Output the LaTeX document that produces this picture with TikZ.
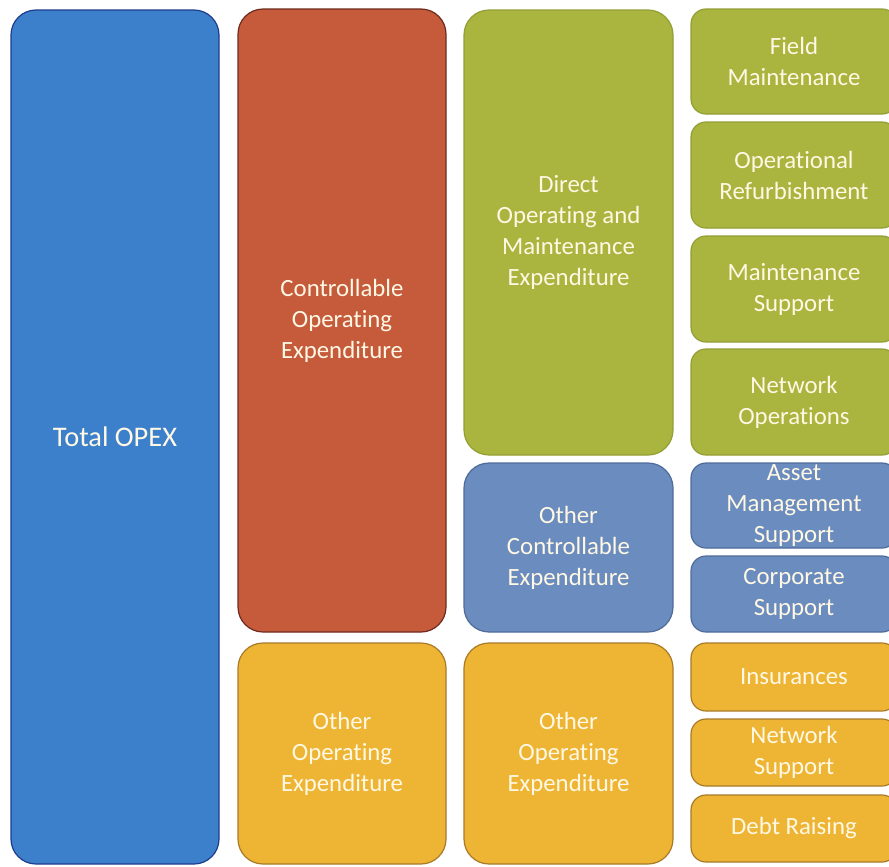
\documentclass[tikz,border=0pt]{standalone}
\usepackage{fontspec}
\setmainfont[Ligatures=NoCommon]{Carlito}
\usepackage{tikz}

\definecolor{opexblue}{HTML}{3C80CC}
\definecolor{opexblueline}{HTML}{1E3C8C}
\definecolor{ctrlred}{HTML}{C65B3C}
\definecolor{ctrlredline}{HTML}{6E2A1E}
\definecolor{omgreen}{HTML}{A9B53E}
\definecolor{omgreenline}{HTML}{939E34}
\definecolor{otherslate}{HTML}{6B8CBE}
\definecolor{otherslateline}{HTML}{4E6B9A}
\definecolor{otheramber}{HTML}{EEB534}
\definecolor{otheramberline}{HTML}{A87A28}
\definecolor{labelcream}{HTML}{FFF8E4}

\tikzset{
    cell/.style={draw, line width=0.6pt, rounded corners=12.5pt, inner sep=0pt,
        align=center, text=labelcream, font=\fontsize{12.4}{15.5}\selectfont},
    small/.style={rounded corners=7.5pt},
    wh/.style 2 args={minimum width=#1*0.5pt, minimum height=#2*0.5pt},
    blue/.style={fill=opexblue, draw=opexblueline},
    red/.style={fill=ctrlred, draw=ctrlredline},
    green/.style={fill=omgreen, draw=omgreenline},
    slate/.style={fill=otherslate, draw=otherslateline},
    amber/.style={fill=otheramber, draw=otheramberline}
}

\begin{document}
\begin{tikzpicture}[x=0.5pt, y=-0.5pt]
        \useasboundingbox (0, 0) rectangle (889, 867);
        % first level
        \node[cell, blue, wh={208}{854}, font=\fontsize{14.2}{17}\selectfont] (total) at (115, 437) {Total OPEX};
        % second level
        \node[cell, red, wh={208}{623}] (ctrl) at (342, 320.5) {Controllable\\Operating\\Expenditure};
        \node[cell, amber, wh={208}{221}] (other) at (342, 753.5) {Other\\Operating\\Expenditure};
        % third level
        \node[cell, green, wh={209}{445}] (direct) at (568.5, 232.5) {Direct\\Operating and\\Maintenance\\Expenditure};
        \node[cell, slate, wh={209}{169}] (otherctrl) at (568.5, 547.5) {Other\\Controllable\\Expenditure};
        \node[cell, amber, wh={209}{221}] (otherop) at (568.5, 753.5) {Other\\Operating\\Expenditure};
        % fourth level, runs off the right edge
        \node[cell, small, green, wh={206}{105}] (field) at (794, 61.5) {Field\\Maintenance};
        \node[cell, small, green, wh={206}{106}] (refurb) at (794, 175) {Operational\\Refurbishment};
        \node[cell, small, green, wh={206}{106}] (mainsup) at (794, 289) {Maintenance\\Support};
        \node[cell, small, green, wh={206}{106}] (netops) at (794, 402) {Network\\Operations};
        \node[cell, small, slate, wh={206}{85}] (asset) at (794, 505.5) {Asset\\Management\\Support};
        \node[cell, small, slate, wh={206}{76}] (corp) at (794, 594) {Corporate\\Support};
        \node[cell, small, amber, wh={206}{68}] (insur) at (794, 677) {Insurances};
        \node[cell, small, amber, wh={206}{67}] (netsup) at (794, 752.5) {Network\\Support};
        \node[cell, small, amber, wh={206}{67}] (debt) at (794, 828.5) {Debt Raising};
    \end{tikzpicture}
\end{document}
